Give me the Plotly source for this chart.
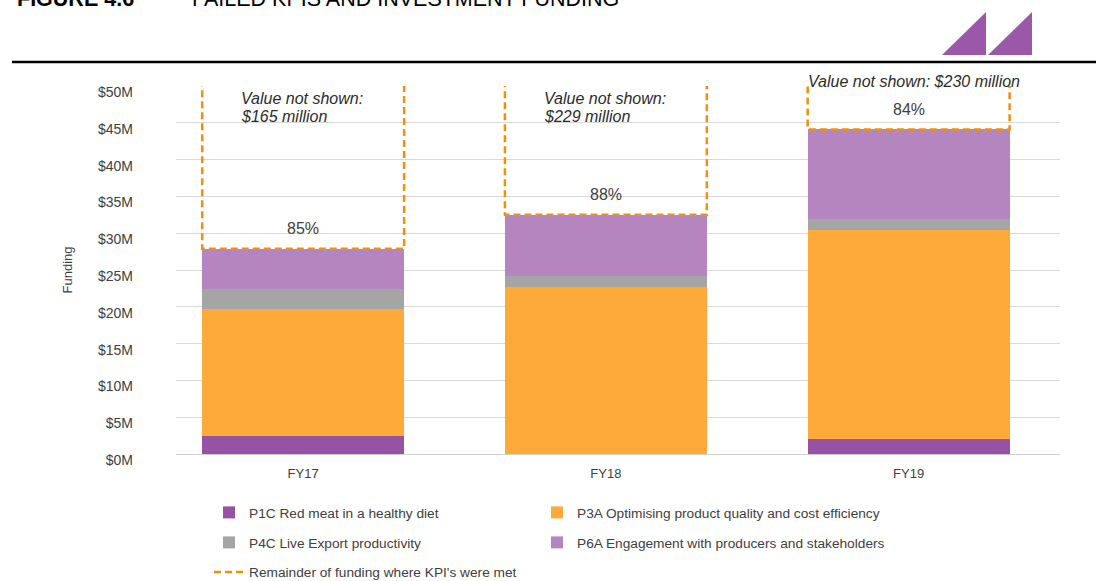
import plotly.graph_objects as go

# ---- data (AUD millions) ----
years = ["FY17", "FY18", "FY19"]
p1c_red_meat = [2.4, 0.0, 2.0]
p3a_product_quality = [17.3, 22.7, 28.5]
p4c_live_export = [2.7, 1.5, 1.4]
p6a_engagement = [5.5, 8.3, 12.2]
remainder_met = [165, 229, 230]          # funding where KPIs were met (not shown to scale)
failed_share_labels = ["85%", "88%", "84%"]
y_ticks = [0, 5, 10, 15, 20, 25, 30, 35, 40, 45, 50]

series = [
    ("P1C Red meat in a healthy diet", p1c_red_meat, "#9653A4"),
    ("P3A Optimising product quality and cost efficiency", p3a_product_quality, "#FDAA3B"),
    ("P4C Live Export productivity", p4c_live_export, "#A5A5A5"),
    ("P6A Engagement with producers and stakeholders", p6a_engagement, "#B585BF"),
]

FONT = "Liberation Sans, Arial, sans-serif"
TEXT = "#404040"
DASH_ORANGE = "#EF900E"
BAR_W = 0.667

# figure geometry in pixels
W, H = 1096, 581
ML, MR, MT, MB = 176, 36, 86, 127
PW, PH = W - ML - MR, H - MT - MB


def px_x(p):
    return (p - ML) / PW


def px_y(p):
    return (H - MB - p) / PH


# one legend box per entry: (text left edge, text centre line) in pixels
legend_slots = [(249, 512.5), (577, 512.5), (249, 542.5), (577, 542.5), (249, 572)]
legend_names = ["legend", "legend2", "legend3", "legend4", "legend5"]

fig = go.Figure()
xpos = list(range(len(years)))

for k, (name, vals, color) in enumerate(series):
    fig.add_trace(go.Bar(
        x=xpos, y=vals, name=name, width=BAR_W,
        marker=dict(color=color, line=dict(width=0)),
        legend=legend_names[k],
    ))

# stack totals per year
totals = [sum(s[1][i] for s in series) for i in range(len(years))]

# dashed outline of the remainder bar, sitting on top of each stack (clipped by the axis)
ox, oy = [], []
for i, (t, r) in enumerate(zip(totals, remainder_met)):
    x0, x1 = i - BAR_W / 2, i + BAR_W / 2
    ox += [x0, x0, x1, x1, None]
    oy += [t + r, t, t, t + r, None]
fig.add_trace(go.Scatter(
    x=ox, y=oy, mode="lines", name="Remainder of funding where KPI's were met",
    line=dict(color=DASH_ORANGE, width=2.5, dash="7px,4px"),
    legend=legend_names[4], hoverinfo="skip",
))

annotations = []
# failed-KPI share of total funding above each stack
for i, (t, lab) in enumerate(zip(totals, failed_share_labels)):
    annotations.append(dict(
        x=i, y=t, xref="x", yref="y", text=lab, showarrow=False,
        yanchor="middle", yshift=20, font=dict(family=FONT, size=16, color=TEXT),
    ))

# "value not shown" notes
note_font = dict(family=FONT, size=16, color="#2b2b2b")
for i, v in enumerate(remainder_met):
    if i < 2:
        for k, line in enumerate(["<i>Value not shown:</i>", f"<i>${v} million</i>"]):
            annotations.append(dict(
                x=i - BAR_W / 2, y=50, xref="x", yref="y", text=line, showarrow=False,
                xanchor="left", yanchor="middle", xshift=37, yshift=-12 - 18 * k,
                font=note_font,
            ))
    else:
        annotations.append(dict(
            x=i, y=50, xref="x", yref="y", text=f"<i>Value not shown: ${v} million</i>",
            showarrow=False, xanchor="center", yanchor="middle", xshift=5, yshift=5,
            font=note_font,
        ))

# figure heading (partly above the page edge)
annotations.append(dict(
    x=px_x(15), y=px_y(-1), xref="paper", yref="paper", text="<b>FIGURE 4.6</b>",
    showarrow=False, xanchor="left", yanchor="middle",
    font=dict(family=FONT, size=21.5, color="#000000"),
))
annotations.append(dict(
    x=px_x(190), y=px_y(-1), xref="paper", yref="paper",
    text="FAILED KPIS AND INVESTMENT FUNDING",
    showarrow=False, xanchor="left", yanchor="middle",
    font=dict(family=FONT, size=21.5, color="#000000"),
))

shapes = [
    # heading rule
    dict(type="line", xref="paper", yref="paper", x0=px_x(12), x1=px_x(1096),
         y0=px_y(62), y1=px_y(62), line=dict(color="#000000", width=2.5)),
]
# logo: two purple triangles
for left in (942, 988):
    right = left + 44
    path = (f"M{px_x(left)},{px_y(55)} L{px_x(right)},{px_y(55)} "
            f"L{px_x(right)},{px_y(12)} Z")
    shapes.append(dict(type="path", xref="paper", yref="paper", path=path,
                       fillcolor="#9B57A8", line=dict(width=0)))

legend_common = dict(
    orientation="h", xref="container", yref="container", xanchor="left",
    yanchor="middle", bgcolor="rgba(0,0,0,0)", borderwidth=0,
    font=dict(family=FONT, size=13.7, color=TEXT),
)
legend_layout = {
    nm: dict(legend_common, x=(tx - 40) / W, y=(H - ty) / H)
    for nm, (tx, ty) in zip(legend_names, legend_slots)
}

fig.update_layout(
    width=W, height=H,
    margin=dict(l=ML, r=MR, t=MT, b=MB, autoexpand=False),
    paper_bgcolor="white", plot_bgcolor="white",
    barmode="stack", bargap=0,
    font=dict(family=FONT, size=13, color=TEXT),
    xaxis=dict(
        range=[-0.42, 2.5], tickmode="array", tickvals=xpos, ticktext=years,
        showgrid=False, zeroline=False, showline=False, ticks="",
        tickfont=dict(family=FONT, size=13, color=TEXT), ticklabelstandoff=10,
    ),
    yaxis=dict(
        range=[0, 50], tickmode="array", tickvals=y_ticks,
        ticktext=[f"${v}M" for v in y_ticks],
        showgrid=True, gridcolor="#D9D9D9", gridwidth=1,
        zeroline=True, zerolinecolor="#D0D0D0", zerolinewidth=1.2,
        showline=False, ticks="", ticklabelstandoff=42, ticklabelshift=6,
        tickfont=dict(family=FONT, size=14, color=TEXT),
        title=dict(text="Funding", standoff=22, font=dict(family=FONT, size=13, color=TEXT)),
    ),
    annotations=annotations,
    shapes=shapes,
    showlegend=True,
    **legend_layout,
)

fig.write_html("out.html")
